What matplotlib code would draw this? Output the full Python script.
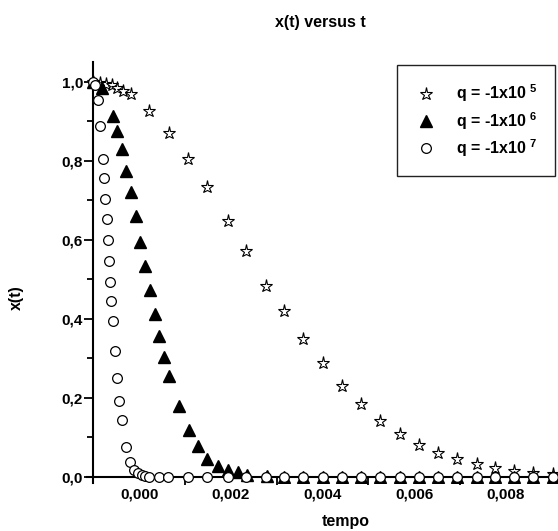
import matplotlib.pyplot as plt
from matplotlib.ticker import FixedLocator, FuncFormatter
from matplotlib.lines import Line2D

# ----------------------------
# Dados
# ----------------------------
t_star = [-0.00100, -0.00086, -0.00073, -0.00060, -0.00048, -0.00035, -0.00017,
          0.00022, 0.00066, 0.00107, 0.00148, 0.00193, 0.00234, 0.00277,
          0.00316, 0.00358, 0.00400, 0.00442, 0.00484, 0.00526, 0.00569,
          0.00611, 0.00653, 0.00693, 0.00737, 0.00777, 0.00819, 0.00860, 0.00902]
x_star = [1.000, 0.996, 0.994, 0.992, 0.984, 0.977, 0.968,
          0.927, 0.871, 0.805, 0.734, 0.648, 0.572, 0.484,
          0.420, 0.349, 0.287, 0.231, 0.183, 0.141, 0.108,
          0.081, 0.059, 0.045, 0.032, 0.021, 0.015, 0.009, 0.006]

t_tri = [-0.00100, -0.00081, -0.00058, -0.00048, -0.00038, -0.00028, -0.00019,
         -0.00008, 0.00002, 0.00013, 0.00023, 0.00034, 0.00044, 0.00055,
         0.00066, 0.00087, 0.00108, 0.00128, 0.00147, 0.00171, 0.00194,
         0.00216, 0.00236, 0.00278, 0.00316, 0.00358, 0.00400, 0.00442,
         0.00484, 0.00526, 0.00569, 0.00611, 0.00653, 0.00693, 0.00737,
         0.00777, 0.00819, 0.00860, 0.00902]
x_tri = [1.000, 0.984, 0.914, 0.875, 0.829, 0.775, 0.720,
         0.661, 0.595, 0.533, 0.473, 0.412, 0.356, 0.304,
         0.256, 0.180, 0.118, 0.078, 0.045, 0.028, 0.017,
         0.013, 0.004, 0.002, 0.0, 0.0, 0.0, 0.0,
         0.0, 0.0, 0.0, 0.0, 0.0, 0.0, 0.0,
         0.0, 0.0, 0.0, 0.0]

t_circ = [-0.00100, -0.00097, -0.00091, -0.00085, -0.00080, -0.00077, -0.00074,
          -0.00071, -0.00068, -0.00066, -0.00064, -0.00061, -0.00058, -0.00053,
          -0.00048, -0.00044, -0.00038, -0.00028, -0.00020, -0.00011, -0.00002,
          0.00005, 0.00012, 0.00022, 0.00043, 0.00063, 0.00107, 0.00149,
          0.00193, 0.00234, 0.00276, 0.00316, 0.00358, 0.00400, 0.00442,
          0.00484, 0.00526, 0.00569, 0.00611, 0.00653, 0.00693, 0.00737,
          0.00777, 0.00819, 0.00860, 0.00902]
x_circ = [1.000, 0.992, 0.954, 0.889, 0.804, 0.756, 0.704,
          0.652, 0.600, 0.546, 0.494, 0.444, 0.395, 0.319,
          0.249, 0.193, 0.144, 0.076, 0.038, 0.017, 0.009,
          0.004, 0.002, 0.0, 0.0, 0.0, 0.0, 0.0,
          0.0, 0.0, 0.0, 0.0, 0.0, 0.0, 0.0,
          0.0, 0.0, 0.0, 0.0, 0.0, 0.0, 0.0,
          0.0, 0.0, 0.0, 0.0]

labels = ['q = -1x10 $^{5}$', 'q = -1x10 $^{6}$', 'q = -1x10 $^{7}$']
x_ticks = [0.000, 0.002, 0.004, 0.006, 0.008]
x_minor = [0.001, 0.003, 0.005, 0.007]
y_ticks = [0.0, 0.2, 0.4, 0.6, 0.8, 1.0]
y_minor = [0.1, 0.3, 0.5, 0.7, 0.9]

# ----------------------------
# Estilo
# ----------------------------
plt.rcParams['font.family'] = ['Liberation Sans', 'DejaVu Sans']
plt.rcParams['font.weight'] = 'bold'
plt.rcParams['mathtext.fontset'] = 'custom'
plt.rcParams['mathtext.bf'] = 'Liberation Sans:bold'
plt.rcParams['mathtext.rm'] = 'Liberation Sans:bold'
plt.rcParams['mathtext.default'] = 'bf'

W, H = 558, 531
fig = plt.figure(figsize=(W / 100, H / 100), dpi=100)
ax = fig.add_axes([87 / W, 1 - 483.1 / H, 471 / W, 421.05 / H])

ax.plot(t_star, x_star, ls='none', marker='*', ms=9.5, mfc='white',
        mec='black', mew=0.8, zorder=3)
ax.plot(t_tri, x_tri, ls='none', marker='^', ms=8, mfc='black',
        mec='black', zorder=4)
ax.plot(t_circ, x_circ, ls='none', marker='o', ms=7, mfc='white',
        mec='black', mew=0.9, zorder=5)

ax.set_xlim(-0.00114, 0.00914)
ax.set_ylim(-0.016, 1.05)

for s in ['top', 'right']:
    ax.spines[s].set_visible(False)
ax.spines['left'].set_position(('data', -0.001))
ax.spines['bottom'].set_position(('data', 0.0))
for s in ['left', 'bottom']:
    ax.spines[s].set_linewidth(1.5)
    ax.spines[s].set_zorder(2)

ax.xaxis.set_major_locator(FixedLocator(x_ticks))
ax.xaxis.set_minor_locator(FixedLocator(x_minor))
ax.yaxis.set_major_locator(FixedLocator(y_ticks))
ax.yaxis.set_minor_locator(FixedLocator(y_minor))
ax.xaxis.set_major_formatter(FuncFormatter(lambda v, p: f'{v:.3f}'.replace('.', ',')))
ax.yaxis.set_major_formatter(FuncFormatter(lambda v, p: f'{v:.1f}'.replace('.', ',')))

ax.tick_params(axis='x', which='major', length=0, pad=8, labelsize=11)
ax.tick_params(axis='x', which='minor', length=6, width=1.3, direction='out')
ax.tick_params(axis='y', which='major', length=6.5, width=1.3, direction='out',
               pad=1, labelsize=11)
ax.tick_params(axis='y', which='minor', length=4, width=1.3, direction='out')
for lab in ax.get_xticklabels() + ax.get_yticklabels():
    lab.set_fontweight('bold')

# ----------------------------
# Legenda
# ----------------------------
handles = [
    Line2D([], [], ls='none', marker='*', ms=9.5, mfc='white', mec='black', mew=0.8),
    Line2D([], [], ls='none', marker='^', ms=9, mfc='black', mec='black'),
    Line2D([], [], ls='none', marker='o', ms=7, mfc='white', mec='black', mew=0.9),
]
leg = ax.legend(handles, labels, loc='upper left',
                bbox_to_anchor=(397 / W, 1 - 65 / H), bbox_transform=fig.transFigure,
                frameon=True, fancybox=False, edgecolor='#222222', framealpha=1,
                fontsize=11.5, borderpad=1.1, labelspacing=0.35,
                handlelength=1.4, handletextpad=1.2, borderaxespad=0)
leg.get_frame().set_linewidth(1.0)

# ----------------------------
# Textos
# ----------------------------
fig.text(320 / W, 1 - 27 / H, 'x(t) versus t', ha='center', va='baseline',
         fontsize=11.5, fontweight='bold')
fig.text(345.5 / W, 1 - 526 / H, 'tempo', ha='center', va='baseline',
         fontsize=11.5, fontweight='bold')
fig.text(16 / W, 1 - 298 / H, 'x(t)', ha='center', va='center', rotation=90,
         fontsize=11.5, fontweight='bold')

fig.savefig('out.png', dpi=100)
